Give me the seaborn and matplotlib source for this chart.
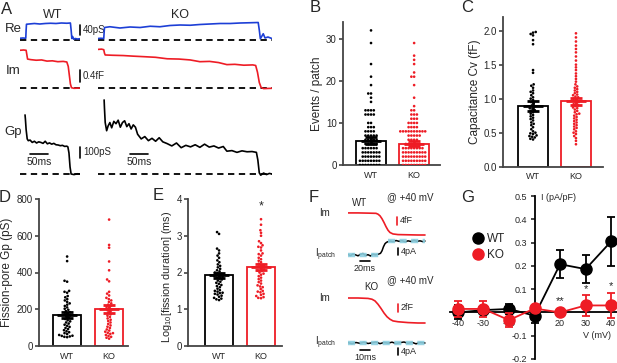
import matplotlib.pyplot as plt
import numpy as np
import pandas as pd
import seaborn as sns
from matplotlib.lines import Line2D

sns.set_style('ticks')
plt.rcParams['font.family'] = ['Liberation Sans', 'DejaVu Sans']
plt.rcParams['mathtext.fontset'] = 'custom'
plt.rcParams['mathtext.rm'] = 'Liberation Sans'
plt.rcParams['mathtext.it'] = 'Liberation Sans:italic'

W, H = 617, 363
RED = '#ee1c25'
BLUE = '#1d3fd6'
CYAN = '#8ccfe0'
GROUPS = ['WT', 'KO']
PAL = {'WT': 'black', 'KO': RED}

# ---------------- A: example traces (t in ms, values vs dashed baseline)
re_wt_t = [0, 8, 16, 17, 18, 25, 40, 55, 70, 85, 100, 115, 130, 140, 142, 144, 146, 149, 153, 160, 167]
re_wt_v = [7, 8, 7, 40, 63, 64, 66, 64, 66, 67, 66, 68, 67, 68, 40, 6, 14, 3, 6, 4, 5]
re_ko_t = [0, 8, 16, 17, 18, 33, 61, 89, 117, 145, 172, 200, 228, 256, 283, 311, 339, 367, 395, 422, 445, 448, 451, 459, 464, 472, 483]
re_ko_v = [6, 7, 6, 30, 50, 53, 48, 52, 50, 55, 53, 58, 60, 59, 62, 64, 66, 66, 68, 69, 70, 40, 5, 25, 8, 12, 6]

im_wt_t = [0, 10, 17, 19, 21, 30, 45, 60, 75, 90, 105, 120, 130, 134, 137, 140, 143, 150, 167]
im_wt_v = [1.30, 1.31, 1.30, 1.15, 1.00, 0.98, 0.96, 0.97, 0.93, 0.94, 0.91, 0.92, 0.90, 0.75, 0.45, 0.15, 0.02, 0.0, 0.01]
im_ko_t = [0, 10, 16, 18, 20, 40, 70, 97, 130, 160, 192, 225, 256, 283, 310, 335, 358, 380, 405, 430, 438, 443, 448, 453, 460, 483]
im_ko_v = [1.33, 1.34, 1.32, 1.20, 1.14, 1.13, 1.12, 1.10, 1.08, 1.06, 1.01, 1.00, 0.97, 0.91, 0.92, 0.88, 0.81, 0.82, 0.79, 0.80, 0.78, 0.55, 0.20, 0.03, -0.01, 0.0]

gp_wt_t = [14, 15, 17, 20, 23, 28, 34, 40, 46, 52, 58, 64, 70, 76, 82, 88, 94, 100, 106, 112, 118, 124, 130, 133, 136, 139, 142, 150, 160, 167]
gp_wt_v = [505, 470, 380, 300, 285, 290, 270, 280, 265, 275, 270, 262, 280, 258, 266, 255, 262, 250, 248, 242, 245, 236, 238, 232, 180, 60, 0, -5, 2, 0]
gp_ko_t = [17, 18, 20, 24, 28, 33, 38, 44, 50, 56, 62, 68, 74, 80, 86, 92, 98, 104, 110, 120, 130, 140, 150, 160, 170, 180,
           192, 205, 218, 231, 244, 257, 270, 283, 296, 309, 322, 335, 348, 358, 372, 386, 400, 414, 428, 440, 444, 448, 452,
           460, 468, 476, 483]
gp_ko_v = [633, 560, 440, 370, 410, 440, 395, 450, 430, 460, 400, 440, 455, 405, 430, 385, 420, 400, 340, 300, 320, 285, 305,
           280, 310, 275, 260, 240, 265, 225, 245, 232, 250, 228, 255, 230, 240, 222, 235, 195, 200, 185, 198, 190, 192, 185,
           120, 10, -10, 8, -5, 5, 0]

# ---------------- B-E: scatter + mean/SEM
b_wt = [32, 29, 24, 21, 19, 17, 17, 16, 15, 13, 13, 13, 13, 12, 12, 12, 12, 10, 10, 9, 9, 9, 8, 8, 8, 8, 7, 7, 7, 7, 7,
        6, 6, 6, 6, 6, 5, 5, 5, 5, 5, 4, 4, 4, 4, 4, 4, 3, 3, 3, 3, 3, 3, 3, 2, 2, 2, 2, 2, 2, 2,
        1, 1, 1, 1, 1, 1, 1, 1, 0, 0, 0, 0, 0, 0, 0, 0]
b_ko = [29, 26, 25, 24, 22, 21, 21, 19, 16, 14, 13, 13, 12, 12, 12, 11, 11, 11, 10, 10, 10, 10, 9, 9, 9, 9,
        8, 8, 8, 8, 8, 8, 8, 8, 8, 8, 7, 7, 7, 7, 7, 6, 6, 6, 6, 5, 5, 5, 5, 5, 5, 4, 4, 4, 4, 4, 4, 4, 4,
        3, 3, 3, 3, 3, 3, 3, 3, 3, 2, 2, 2, 2, 2, 2, 2, 2, 2, 1, 1, 1, 1, 1, 1, 1, 1, 1, 0, 0, 0, 0, 0, 0, 0, 0, 0]
b_mean = [5.8, 5.1]
b_sem = [0.8, 0.5]

c_wt = [1.98, 1.97, 1.95, 1.93, 1.86, 1.80, 1.42, 1.38, 1.21, 1.19, 1.16, 1.12, 1.10, 1.08, 1.05, 1.02, 1.00, 0.98,
        0.95, 0.93, 0.90, 0.88, 0.86, 0.85, 0.83, 0.82, 0.80, 0.78, 0.76, 0.74, 0.72, 0.70, 0.68, 0.65, 0.63, 0.61,
        0.58, 0.55, 0.52, 0.50, 0.49, 0.48, 0.46, 0.45, 0.44, 0.43, 0.41, 0.40]
c_ko = [1.96, 1.90, 1.84, 1.78, 1.73, 1.68, 1.62, 1.56, 1.50, 1.46, 1.42, 1.37, 1.33, 1.29, 1.25, 1.21, 1.18, 1.16,
        1.14, 1.12, 1.10, 1.08, 1.06, 1.05, 1.03, 1.02, 1.00, 0.99, 0.97, 0.96, 0.95, 0.93, 0.92, 0.90, 0.89, 0.87,
        0.86, 0.84, 0.82, 0.80, 0.78, 0.77, 0.75, 0.73, 0.71, 0.69, 0.67, 0.65, 0.63, 0.61, 0.59, 0.57, 0.55, 0.52,
        0.50, 0.48, 0.45, 0.42, 0.38, 0.33]
c_mean = [0.89, 0.96]
c_sem = [0.07, 0.05]

d_wt = [487, 462, 355, 350, 300, 295, 290, 272, 265, 255, 248, 240, 232, 225, 218, 210, 203, 197, 190, 184, 178, 172,
        166, 160, 153, 147, 140, 134, 128, 122, 116, 110, 104, 98, 92, 86, 80, 75, 70, 65, 60, 56, 52, 50, 48, 55]
d_ko = [688, 550, 535, 460, 412, 362, 352, 295, 285, 275, 262, 255, 248, 240, 232, 225, 218, 212, 206, 200, 194, 188,
        180, 172, 165, 158, 150, 143, 136, 128, 120, 112, 105, 98, 90, 84, 78, 72, 66, 60, 55, 50, 45, 40, 70]
d_mean = [168, 200]
d_sem = [18, 22]

e_wt = [3.10, 3.05, 2.65, 2.60, 2.52, 2.46, 2.40, 2.33, 2.28, 2.22, 2.18, 2.14, 2.10, 2.06, 2.03, 2.00, 1.98, 1.96,
        1.94, 1.92, 1.90, 1.88, 1.86, 1.84, 1.81, 1.78, 1.75, 1.72, 1.69, 1.66, 1.63, 1.60, 1.56, 1.52, 1.50, 1.48,
        1.45, 1.42, 1.40, 1.37, 1.34, 1.31, 1.29, 1.27, 1.25, 1.44]
e_ko = [3.45, 3.30, 3.15, 3.08, 3.00, 2.85, 2.80, 2.74, 2.68, 2.60, 2.52, 2.46, 2.40, 2.36, 2.32, 2.28, 2.24, 2.20,
        2.16, 2.12, 2.08, 2.04, 2.00, 1.97, 1.94, 1.90, 1.86, 1.82, 1.78, 1.74, 1.70, 1.65, 1.60, 1.55, 1.50, 1.46,
        1.42, 1.39, 1.36, 1.33, 1.31, 1.30, 2.50, 2.70, 1.48, 2.05, 2.20, 1.62]
e_mean = [1.93, 2.16]
e_sem = [0.07, 0.08]

# ---------------- F: example capacitance / patch current traces
fim_wt_t = [0, 20, 40, 56, 60, 64, 68, 72, 76, 80, 84, 90, 100, 120, 140, 154]
fim_wt_v = [10.6, 10.6, 10.5, 10.4, 10.0, 9.2, 7.8, 6.0, 4.0, 2.3, 1.2, 0.5, 0.2, 0.1, 0.0, 0.0]
fip_wt_t = [0, 5, 10, 15, 20, 25, 30, 35, 40, 45, 50, 55, 60, 65, 68, 71, 74, 77, 80, 84, 90, 96, 102, 108, 114, 120,
            126, 132, 138, 144, 150, 154]
fip_wt_v = [0.3, -0.4, 0.6, 0.1, -0.5, 0.4, 0.9, -0.3, 0.2, -0.6, 0.5, 0.1, 0.4, 1.0, 2.5, 5.0, 6.8, 7.6, 8.0, 8.4,
            8.0, 8.7, 8.2, 8.6, 7.9, 8.5, 8.1, 8.8, 8.2, 8.5, 8.0, 8.4]
fit_wt_t = [[0, 66], [80, 154]]
fit_wt_v = [0.0, 8.3]

fim_ko_t = [0, 10, 20, 24, 27, 30, 33, 36, 39, 42, 45, 50, 55, 60, 70, 77]
fim_ko_v = [6.0, 6.0, 5.9, 5.7, 5.3, 4.5, 3.5, 2.4, 1.5, 0.9, 0.5, 0.3, 0.2, 0.1, 0.0, 0.0]
fip_ko_t = [0, 4, 8, 12, 16, 20, 24, 28, 32, 36, 40, 44, 48, 52, 56, 60, 64, 68, 72, 77]
fip_ko_v = [0.2, -0.4, 0.3, -0.2, 0.5, -0.3, 0.1, 0.6, -0.4, 0.3, -0.1, 0.5, -0.3, 0.2, 0.6, -0.2, 0.4, -0.5, 0.3, 0.0]
fit_ko_t = [0, 77]
fit_ko_v = 0.0

# ---------------- G: I-V
g_volts = ['-40', '-30', '-20', '', '20', '30', '40']
g_wt_mean = [0.000, 0.010, 0.015, -0.014, 0.207, 0.186, 0.305]
g_wt_sem = [0.030, 0.015, 0.020, 0.030, 0.060, 0.060, 0.105]
g_ko_mean = [0.015, 0.015, -0.033, 0.017, 0.000, 0.030, 0.030]
g_ko_sem = [0.035, 0.035, 0.030, 0.015, 0.010, 0.045, 0.055]
g_yticks = [-0.2, -0.1, 0.0, 0.1, 0.2, 0.3, 0.4, 0.5]
g_yticklabels = ['-0.2', '-0.1', '', '0.1', '0.2', '0.3', '0.4', '0.5']

fig = plt.figure(figsize=(W / 100, H / 100), dpi=100)


def px_axes(x0, y0, x1, y1):
    return fig.add_axes([x0 / W, 1 - y1 / H, (x1 - x0) / W, (y1 - y0) / H])


def label(x, y, s, size=7, **kw):
    kw.setdefault('ha', 'center')
    kw.setdefault('va', 'center')
    fig.text(x / W, 1 - y / H, s, fontsize=size, **kw)


def trace_ax(x0, y0, x1, y1, base_y, t_per_px, v_per_px):
    ax = px_axes(x0, y0, x1, y1)
    ax.set_xlim(0, (x1 - x0) * t_per_px)
    ax.set_ylim((base_y - y1) * v_per_px, (base_y - y0) * v_per_px)
    ax.axis('off')
    return ax


def vbar(ax, t, v0, dv, text, color='black', size=7):
    ax.plot([t, t], [v0, v0 + dv], color=color, lw=1.2, clip_on=False)
    ax.annotate(text, (t, v0 + dv / 2), xytext=(2, 0), textcoords='offset points', ha='left', va='center',
                fontsize=size, annotation_clip=False)


def hbar(ax, t0, dt, v, text, size=7):
    ax.plot([t0, t0 + dt], [v, v], color='black', lw=1.2, clip_on=False)
    ax.annotate(text, (t0 + dt / 2, v), xytext=(0, -2), textcoords='offset points', ha='center', va='top',
                fontsize=size, annotation_clip=False)


def baseline(ax):
    ax.axhline(0, color='black', lw=1.3, ls=(0, (3.5, 2.5)))


# ---- panel A
MS_PX = 50 / 18
rows = [
    (15, 45, 40, 4.0, re_wt_t, re_wt_v, re_ko_t, re_ko_v, BLUE),
    (45, 92, 88.3, 0.0342, im_wt_t, im_wt_v, im_ko_t, im_ko_v, RED),
    (95, 178, 174, 8.55, gp_wt_t, gp_wt_v, gp_ko_t, gp_ko_v, 'black'),
]
a_axes = []
for y0, y1, by, vpp, wt_t, wt_v, ko_t, ko_v, col in rows:
    ax_w = trace_ax(20, y0, 80, y1, by, MS_PX, vpp)
    ax_k = trace_ax(98, y0, 272, y1, by, MS_PX, vpp)
    baseline(ax_w)
    baseline(ax_k)
    ax_w.plot(wt_t, wt_v, color=col, lw=1.2)
    ax_k.plot(ko_t, ko_v, color=col, lw=1.2)
    a_axes.append((ax_w, ax_k))

vbar(a_axes[0][0], 167, 20, 40, '40pS')
vbar(a_axes[1][0], 167, 0.23, 0.4, '0.4fF')
vbar(a_axes[2][0], 167, 134, 100, '100pS')
hbar(a_axes[2][0], 28, 50, 171, '50ms', size=7.5)
hbar(a_axes[2][1], 89, 50, 171, '50ms', size=7.5)
label(7, 10, 'A', size=12)
label(53, 15, 'WT', size=9)
label(180, 15, 'KO', size=9)
label(13, 29, 'Re', size=9.5)
label(13, 71, 'Im', size=9.5)
label(13, 132, 'Gp', size=9.5)


# ---- panels B-E
def bar_panel(box, wt, ko, mean, sem, ylim, yticks, yfmt, ylabel, xlim, lab_px, lab_size=8.5, lab_y=0.5):
    x0, y0, x1, y1 = box
    ax = px_axes(x0, y0, x1, y1)
    sns.barplot(x=GROUPS, y=mean, hue=GROUPS, palette=PAL, fill=False, width=0.68, linewidth=1.3,
                errorbar=None, legend=False, ax=ax)
    df = pd.DataFrame({'group': ['WT'] * len(wt) + ['KO'] * len(ko), 'value': wt + ko})
    sns.swarmplot(data=df, x='group', y='value', hue='group', palette=PAL, order=GROUPS, hue_order=GROUPS,
                  size=1.9, legend=False, warn_thresh=1, ax=ax)
    for i, g in enumerate(GROUPS):
        ax.errorbar(i, mean[i], yerr=sem[i], fmt='_', color=PAL[g], ms=14, mew=2.0, elinewidth=1.9,
                    capsize=4.5, capthick=1.9, zorder=5)
    ax.set_xlim(*xlim)
    ax.set_ylim(*ylim)
    ax.set_yticks(yticks)
    ax.set_yticklabels([yfmt.format(v) for v in yticks])
    ax.set_xticks([0, 1])
    ax.set_xticklabels(GROUPS)
    ax.set_xlabel('')
    ax.set_ylabel(ylabel, fontsize=lab_size)
    ax.yaxis.set_label_coords((lab_px - x0) / (x1 - x0), lab_y)
    sns.despine(ax=ax)
    for s in ['left', 'bottom']:
        ax.spines[s].set_color('#444444')
        ax.spines[s].set_linewidth(1.3)
    ax.tick_params(axis='y', length=3, width=1.2, color='#444444', labelsize=7, pad=1.5)
    ax.tick_params(axis='x', length=0, labelsize=6.5, pad=4)
    return ax


bar_panel((343, 22, 440, 165), b_wt, b_ko, b_mean, b_sem, (0, 34), [0, 10, 20, 30], '{:.0f}',
          'Events / patch', (-0.65, 1.6), 323)
bar_panel((503, 17, 603, 166.7), c_wt, c_ko, c_mean, c_sem, (0, 2.2), [0, 0.5, 1.0, 1.5, 2.0], '{:.1f}',
          'Capacitance Cv (fF)', (-0.7, 1.63), 481)
bar_panel((39, 199, 128, 346), d_wt, d_ko, d_mean, d_sem, (0, 800), [0, 200, 400, 600, 800], '{:.0f}',
          'Fission-pore Gp (pS)', (-0.67, 1.45), 13)
ax_e = bar_panel((188, 199, 282, 346), e_wt, e_ko, e_mean, e_sem, (0, 4), [0, 1, 2, 3, 4], '{:.0f}',
                 r'Log$_{10}$[fission duration] (ms)', (-0.74, 1.5), 174, lab_size=7.8, lab_y=0.47)
ax_e.text(1, 3.8, '*', ha='center', va='center', fontsize=9)
label(315, 8, 'B', size=12)
label(467, 8, 'C', size=12)
label(5, 198, 'D', size=12)
label(158, 196, 'E', size=12)

# ---- panel F
f_wim = trace_ax(348, 205, 427, 240, 235, 2.0, 0.48)
f_wim.plot(fim_wt_t, fim_wt_v, color=RED, lw=1.2)
vbar(f_wim, 98, 4.8, 4.0, '4fF', color=RED, size=6.5)
f_wip = trace_ax(348, 236, 427, 264, 255, 2.0, 0.6)
f_wip.plot(fip_wt_t, fip_wt_v, color='black', lw=1.1)
for seg, lvl in zip(fit_wt_t, fit_wt_v):
    f_wip.plot(seg, [lvl, lvl], color=CYAN, lw=3.2, ls=(0, (1.6, 1.0)), alpha=0.9)
vbar(f_wip, 100, 0, 4, '4pA', size=6.5)
hbar(f_wip, 24, 20, -3.6, '20ms', size=6.5)

f_kim = trace_ax(348, 290, 427, 328, 323, 1.0, 0.24)
f_kim.plot(fim_ko_t, fim_ko_v, color=RED, lw=1.2)
vbar(f_kim, 50, 2.6, 2.0, '2fF', color=RED, size=6.5)
f_kip = trace_ax(348, 334, 427, 360, 343, 1.0, 0.6)
f_kip.plot(fip_ko_t, fip_ko_v, color='black', lw=1.1)
f_kip.plot(fit_ko_t, [fit_ko_v, fit_ko_v], color=CYAN, lw=3.2, ls=(0, (1.6, 1.0)), alpha=0.9)
vbar(f_kip, 50, -7.2, 4, '4pA', size=6.5)
hbar(f_kip, 12, 10, -4.2, '10ms', size=6.5)

label(314, 197, 'F', size=12)
label(360, 203, 'WT', size=7)
label(410, 197, '@ +40 mV', size=7)
label(325, 213, 'Im', size=7)
label(326, 255, r'I$_{\rm patch}$', size=7)
label(371, 287, 'KO', size=7)
label(410, 280, '@ +40 mV', size=7)
label(325, 298, 'Im', size=7)
label(326, 343, r'I$_{\rm patch}$', size=7)

# ---- panel G
ax_g = px_axes(450, 196, 617, 359)
idx = np.arange(len(g_volts))
ax_g.errorbar(idx, g_wt_mean, yerr=g_wt_sem, fmt='-o', color='black', ms=8, lw=1.3, elinewidth=1.3,
              capsize=3, capthick=1.3, clip_on=False, zorder=3)
ax_g.errorbar(idx, g_ko_mean, yerr=g_ko_sem, fmt='-o', color=RED, ms=8, lw=1.3, elinewidth=1.3,
              capsize=3, capthick=1.3, clip_on=False, zorder=4)
ax_g.set_xlim(-0.31, 6.23)
ax_g.set_ylim(-0.2, 0.5)
ax_g.spines['right'].set_visible(False)
ax_g.spines['top'].set_visible(False)
ax_g.spines['left'].set_position(('data', 3))
ax_g.spines['bottom'].set_position(('data', 0))
for s in ['left', 'bottom']:
    ax_g.spines[s].set_linewidth(1.3)
    ax_g.spines[s].set_color('black')
ax_g.set_xticks(idx)
ax_g.set_xticklabels(g_volts)
ax_g.set_yticks(g_yticks)
ax_g.set_yticklabels(g_yticklabels)
ax_g.tick_params(direction='out', length=3, width=1.2, labelsize=6.5, pad=2)
ax_g.text(4, 0.05, '**', ha='center', va='center', fontsize=8)
ax_g.text(5, 0.1, '*', ha='center', va='center', fontsize=8)
ax_g.text(6, 0.115, '*', ha='center', va='center', fontsize=8)
handles = [Line2D([], [], marker='o', ls='', color='black', ms=8),
           Line2D([], [], marker='o', ls='', color=RED, ms=8)]
ax_g.legend(handles, GROUPS, loc='center left', bbox_to_anchor=(466 / W, 1 - 247 / H),
            bbox_transform=fig.transFigure, frameon=False, fontsize=8.5, handletextpad=0.3,
            labelspacing=0.4, borderpad=0, handlelength=1.0)
label(541, 197, 'I (pA/pF)', size=6.5, ha='left')
label(597, 336, 'V (mV)', size=6.5)
label(468, 197, 'G', size=12)

fig.savefig('out.png', dpi=100)
